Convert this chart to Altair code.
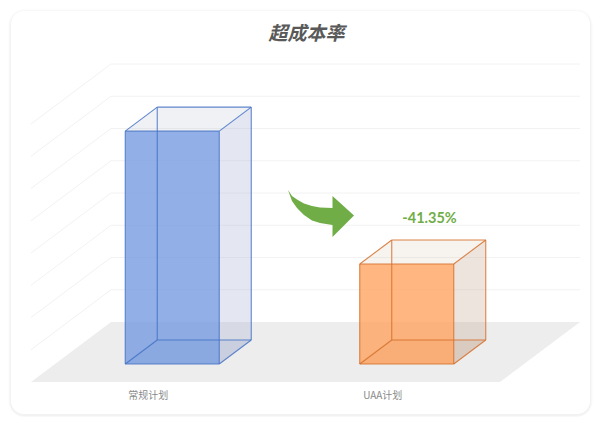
import altair as alt
import pandas as pd

# ---- chart values ----
categories = ["常规计划", "UAA计划"]
values = [7.22, 3.10]
grid_values = [1, 2, 3, 4, 5, 6, 7, 8]
change_label = "-41.35%"
title_text = "超成本率"

# arrow outline, page pixels: x, upper edge, lower edge
arrow_x = [288, 292, 297, 304, 312, 320, 332.5, 332.51, 354]
arrow_top = [190, 196, 199.5, 203.5, 206, 207.5, 208, 196, 215.5]
arrow_bot = [190, 201, 208, 215, 220.5, 223, 225, 237, 215.5]

# ---- projection of the 3D scene onto the page ----
FLOOR_L, FLOOR_R, FLOOR_FRONT, FLOOR_BACK = 31, 500, 382, 322
SKEW_X, UNIT = 80, 32.25
BAND = (FLOOR_R - FLOOR_L) / len(categories)
BAR_W, D0, D1 = 94, 0.3, 0.7


def px(cx, d):
    return cx + SKEW_X * d


def py(v, d):
    return FLOOR_FRONT - (FLOOR_FRONT - FLOOR_BACK) * d - v * UNIT


xs = alt.Scale(domain=[8, 593], range=[0, 585], nice=False, zero=False)
ys = alt.Scale(domain=[417, 8], range=[409, 0], nice=False, zero=False)
X = lambda f="x": alt.X(f"{f}:Q", scale=xs, axis=None)
Y = lambda f="y": alt.Y(f"{f}:Q", scale=ys, axis=None)
X2 = lambda f="x2": alt.X2(f"{f}:Q")
Y2 = lambda f="y2": alt.Y2(f"{f}:Q")


def D(rows):
    return alt.Data(values=rows)


layers = []

# card with soft shadow (kept inside the plot area)
for grow, op in [(3, 0.012), (2, 0.016), (1, 0.022)]:
    layers.append(
        alt.Chart(D([{"x": 11 - grow, "x2": 590 + grow, "y": 11 - grow + 1, "y2": min(414 + grow + 1, 417)}]))
        .mark_rect(color="#000000", opacity=op, cornerRadius=13 + grow)
        .encode(x=X(), x2=X2(), y=Y(), y2=Y2())
    )
layers.append(
    alt.Chart(D([{"x": 11, "x2": 590, "y": 11, "y2": 414}]))
    .mark_rect(color="#FFFFFF", cornerRadius=13)
    .encode(x=X(), x2=X2(), y=Y(), y2=Y2())
)

# gridlines on the back and left walls
grid_rows = []
for v in grid_values:
    grid_rows += [
        {"g": v, "o": 0, "x": px(FLOOR_L, 0), "y": py(v, 0)},
        {"g": v, "o": 1, "x": px(FLOOR_L, 1), "y": py(v, 1)},
        {"g": v, "o": 2, "x": px(FLOOR_R, 1), "y": py(v, 1)},
    ]
layers.append(
    alt.Chart(D(grid_rows))
    .mark_line(color="#F2F2F2", strokeWidth=1)
    .encode(x=X(), y=Y(), detail="g:N", order="o:Q")
)

# floor
layers.append(
    alt.Chart(D([
        {"y": py(0, 0), "x": px(FLOOR_L, 0), "x2": px(FLOOR_R, 0)},
        {"y": py(0, 1), "x": px(FLOOR_L, 1), "x2": px(FLOOR_R, 1)},
    ]))
    .mark_area(orient="horizontal", color="#EDEDED")
    .encode(y=Y(), x=X(), x2=X2())
)

styles = [
    {"front": "#739AE0", "side": "#A4B0CF", "top": "#B4B9CD", "line": "#4472C4"},
    {"front": "#FFA25E", "side": "#C8A793", "top": "#D9C2A8", "line": "#D5702C"},
]

for i, (v, st) in enumerate(zip(values, styles)):
    left = FLOOR_L + BAND * (i + 0.5) - BAR_W / 2
    right = left + BAR_W
    # top face and floor face
    for level, col, op in [(0, st["side"], 0.25), (v, st["top"], 0.2)]:
        layers.append(
            alt.Chart(D([
                {"y": py(level, D0), "x": px(left, D0), "x2": px(right, D0)},
                {"y": py(level, D1), "x": px(left, D1), "x2": px(right, D1)},
            ]))
            .mark_area(orient="horizontal", color=col, opacity=op)
            .encode(y=Y(), x=X(), x2=X2())
        )
    # right side face
    layers.append(
        alt.Chart(D([
            {"x": px(right, D0), "y": py(v, D0), "y2": py(0, D0)},
            {"x": px(right, D1), "y": py(v, D1), "y2": py(0, D1)},
        ]))
        .mark_area(color=st["side"], opacity=0.3)
        .encode(x=X(), y=Y(), y2=Y2())
    )
    # front face
    layers.append(
        alt.Chart(D([{"x": px(left, D0), "x2": px(right, D0), "y": py(v, D0), "y2": py(0, D0)}]))
        .mark_rect(color=st["front"], opacity=0.78)
        .encode(x=X(), x2=X2(), y=Y(), y2=Y2())
    )
    # the twelve box edges
    edges = []
    n = 0
    def edge(a, b):
        global n
        n += 1
        for o, (cx, lev, d) in enumerate((a, b)):
            edges.append({"e": n, "o": o, "x": px(cx, d), "y": py(lev, d)})
    for lev in (0, v):
        for d in (D0, D1):
            edge((left, lev, d), (right, lev, d))
        for cx in (left, right):
            edge((cx, lev, D0), (cx, lev, D1))
    for cx in (left, right):
        for d in (D0, D1):
            edge((cx, 0, d), (cx, v, d))
    layers.append(
        alt.Chart(D(edges))
        .mark_line(color=st["line"], strokeWidth=1.1, opacity=0.85)
        .encode(x=X(), y=Y(), detail="e:N", order="o:Q")
    )

# arrow
arrow_df = pd.DataFrame({"x": arrow_x, "y": arrow_top, "y2": arrow_bot})
layers.append(
    alt.Chart(arrow_df).mark_area(color="#70AD47", interpolate="linear")
    .encode(x=X(), y=Y(), y2=Y2())
)

# texts
CJK = "Noto Sans CJK SC"
layers.append(
    alt.Chart(D([{"x": 306.5, "y": 33.5, "t": title_text}]))
    .mark_text(font=CJK, fontSize=19, fontWeight="bold", fontStyle="italic", color="#595959")
    .encode(x=X(), y=Y(), text="t:N")
)
layers.append(
    alt.Chart(D([{"x": 429.5, "y": 219, "t": change_label}]))
    .mark_text(font="Lato", fontSize=14.5, fontWeight="bold", color="#70AD47")
    .encode(x=X(), y=Y(), text="t:N")
)
layers.append(
    alt.Chart(D([
        {"x": FLOOR_L + BAND * (i + 0.5), "y": 395.5, "t": c} for i, c in enumerate(categories)
    ]))
    .mark_text(font=CJK, fontSize=10, color="#8A8A8A")
    .encode(x=X(), y=Y(), text="t:N")
)

chart = (
    alt.layer(*layers)
    .properties(width=585, height=409, padding=0, background="#FFFFFF")
    .configure_view(stroke=None)
)
chart.save("out.html", embed_options={"renderer": "svg", "actions": False})
